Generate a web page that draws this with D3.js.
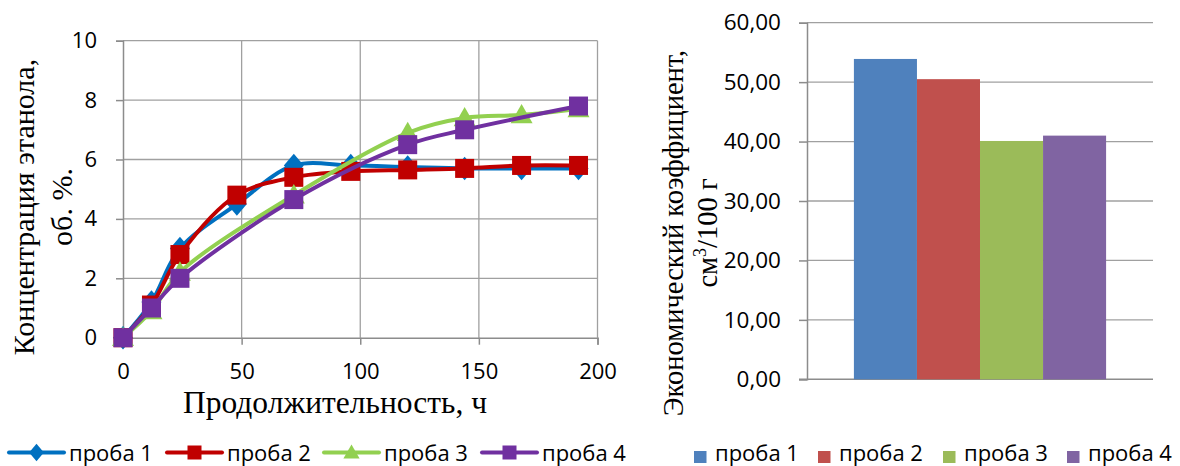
<!DOCTYPE html>
<html><head><meta charset="utf-8">
<script src="https://cdn.jsdelivr.net/npm/d3@7"></script>
<style>body{margin:0;background:#fff}svg{display:block}</style>
</head><body>
<svg id="c" width="1180" height="466"></svg>
<script>
const hours = [0, 12, 24, 48, 72, 96, 120, 144, 168, 192];
const proba1 = [0, 1.2, 3.0, 4.5, 5.8, 5.8, 5.75, 5.7, 5.7, 5.7];
const proba2 = [0, 1.1, 2.8, 4.8, 5.4, 5.6, 5.65, 5.7, 5.8, 5.8];
const proba3 = [0, 0.9, 2.2, null, 4.8, null, 6.9, 7.4, 7.5, 7.7];
const proba4 = [0, 1.0, 2.0, null, 4.65, null, 6.5, 7.0, null, 7.8];
const seriesNames = ["проба 1", "проба 2", "проба 3", "проба 4"];
const lineColors = ["#0070C0", "#C00000", "#92D050", "#7030A0"];
const markerTypes = ["diamond", "square", "triangle", "square"];
const xTicks = [0, 50, 100, 150, 200];
const yTicks = [0, 2, 4, 6, 8, 10];
const econCoef = [53.9, 50.5, 40.1, 41.0];
const barColors = ["#4F81BD", "#C0504D", "#9BBB59", "#8064A2"];
const barTicks = [0, 10, 20, 30, 40, 50, 60];

const svg = d3.select("#c");
const sans = "'Open Sans', sans-serif";
const serif = "'Liberation Serif', 'Times New Roman', serif";
const gridCol = "#a0a0a0", axisCol = "#8c8c8c";

// ---------- Left line chart ----------
const x = d3.scaleLinear().domain([0, 200]).range([123, 597.5]);
const y = d3.scaleLinear().domain([0, 10]).range([337.7, 40.7]);
const L = svg.append("g");
L.selectAll(".hg").data(yTicks.filter(d => d > 0)).join("line")
  .attr("x1", x(0)).attr("x2", x(200)).attr("y1", d => y(d)).attr("y2", d => y(d))
  .attr("stroke", gridCol).attr("stroke-width", 1.3);
L.selectAll(".vg").data(xTicks.filter(d => d > 0)).join("line")
  .attr("x1", d => x(d)).attr("x2", d => x(d)).attr("y1", y(10)).attr("y2", y(0))
  .attr("stroke", gridCol).attr("stroke-width", 1.3);
const yAx = L.append("g").attr("transform", `translate(${x(0)},0)`)
  .call(d3.axisLeft(y).tickValues(yTicks).tickSize(7).tickPadding(19).tickFormat(d3.format("d")));
const xAx = L.append("g").attr("transform", `translate(0,${y(0)})`)
  .call(d3.axisBottom(x).tickValues(xTicks).tickSize(7).tickPadding(19).tickFormat(d3.format("d")));
[yAx, xAx].forEach(a => {
  a.select(".domain").attr("stroke", axisCol).attr("stroke-width", 1.5);
  a.selectAll(".tick line").attr("stroke", axisCol).attr("stroke-width", 1.5);
  a.selectAll("text").attr("font-family", sans).attr("font-size", 22).attr("fill", "#000");
});

const seriesData = [proba1, proba2, proba3, proba4].map(vals =>
  hours.map((h, i) => ({h, v: vals[i]})).filter(d => d.v !== null));

function marker(g, type, cx, cy, color, s) {
  if (type === "square") {
    g.append("rect").attr("x", cx - s / 2).attr("y", cy - s / 2).attr("width", s).attr("height", s).attr("fill", color);
  } else if (type === "diamond") {
    const r = s * 0.62;
    g.append("path").attr("d", `M${cx},${cy - r}L${cx + r * 0.85},${cy}L${cx},${cy + r}L${cx - r * 0.85},${cy}Z`).attr("fill", color);
  } else {
    const r = s * 0.58;
    g.append("path").attr("d", `M${cx},${cy - r}L${cx + r},${cy + r * 0.75}L${cx - r},${cy + r * 0.75}Z`).attr("fill", color);
  }
}
const line = d3.line().x(d => x(d.h)).y(d => y(d.v)).curve(d3.curveCatmullRom.alpha(0.5));
seriesData.forEach((data, i) => {
  const g = L.append("g");
  g.append("path").attr("d", line(data)).attr("fill", "none")
    .attr("stroke", lineColors[i]).attr("stroke-width", 4).attr("stroke-linejoin", "round");
  data.forEach(d => marker(g, markerTypes[i], x(d.h), y(d.v), lineColors[i], 19));
});

L.append("text").attr("transform", "translate(34,207) rotate(-90)").attr("text-anchor", "middle")
  .attr("font-family", serif).attr("font-size", 30).text("Концентрация этанола,");
L.append("text").attr("transform", "translate(72,207) rotate(-90)").attr("text-anchor", "middle")
  .attr("font-family", serif).attr("font-size", 30).text("об. %.");
L.append("text").attr("x", 335).attr("y", 413).attr("text-anchor", "middle")
  .attr("font-family", serif).attr("font-size", 31.5).text("Продолжительность, ч");

// left legend
const legX = [9, 167, 324, 482];
seriesNames.forEach((n, i) => {
  const g = L.append("g");
  const ly = 452.5;
  g.append("line").attr("x1", legX[i]).attr("x2", legX[i] + 55).attr("y1", ly).attr("y2", ly)
    .attr("stroke", lineColors[i]).attr("stroke-width", 4).attr("stroke-linecap", "round");
  marker(g, markerTypes[i], legX[i] + 27.5, ly, lineColors[i], 14);
  g.append("text").attr("x", legX[i] + 60).attr("y", 461)
    .attr("font-family", sans).attr("font-size", 22).text(n);
});

// ---------- Right bar chart ----------
const R = svg.append("g");
const yb = d3.scaleLinear().domain([0, 60]).range([379.3, 22.7]);
const xb0 = d3.scaleBand().domain(["g"]).range([807, 1153]).paddingInner(0).paddingOuter(0.186);
const xb = d3.scaleBand().domain(seriesNames).range([xb0("g"), xb0("g") + xb0.bandwidth()]);
R.selectAll(".bg").data(barTicks.filter(d => d > 0)).join("line")
  .attr("x1", 807).attr("x2", 1153).attr("y1", d => yb(d)).attr("y2", d => yb(d))
  .attr("stroke", gridCol).attr("stroke-width", 1.3);
const ybAx = R.append("g").attr("transform", "translate(807,0)")
  .call(d3.axisLeft(yb).tickValues(barTicks).tickSize(8).tickPadding(18)
    .tickFormat(d => d3.format(".2f")(d).replace(".", ",")));
ybAx.select(".domain").attr("stroke", axisCol).attr("stroke-width", 1.5);
ybAx.selectAll(".tick line").attr("stroke", axisCol).attr("stroke-width", 1.5);
ybAx.selectAll("text").attr("font-family", sans).attr("font-size", 22.5).attr("fill", "#000");
R.append("line").attr("x1", 799).attr("x2", 1153).attr("y1", yb(0)).attr("y2", yb(0))
  .attr("stroke", axisCol).attr("stroke-width", 1.5);
R.selectAll(".bar").data(econCoef).join("rect")
  .attr("x", (d, i) => xb(seriesNames[i])).attr("width", xb.bandwidth())
  .attr("y", d => yb(d)).attr("height", d => yb(0) - yb(d))
  .attr("fill", (d, i) => barColors[i]);

R.append("text").attr("transform", "translate(683,233) rotate(-90)").attr("text-anchor", "middle")
  .attr("font-family", serif).attr("font-size", 28.5).text("Экономический коэффициент,");
const t2 = R.append("text").attr("transform", "translate(717,233) rotate(-90)").attr("text-anchor", "middle")
  .attr("font-family", serif).attr("font-size", 28.5);
t2.append("tspan").text("см");
t2.append("tspan").attr("dy", -11).attr("font-size", 18).text("3");
t2.append("tspan").attr("dy", 11).text("/100 г");

const rlegX = [694, 818, 943, 1067];
seriesNames.forEach((n, i) => {
  R.append("rect").attr("x", rlegX[i]).attr("y", 451).attr("width", 12.5).attr("height", 12).attr("fill", barColors[i]);
  R.append("text").attr("x", rlegX[i] + 21).attr("y", 461)
    .attr("font-family", sans).attr("font-size", 22).text(n);
});
</script>
</body></html>
